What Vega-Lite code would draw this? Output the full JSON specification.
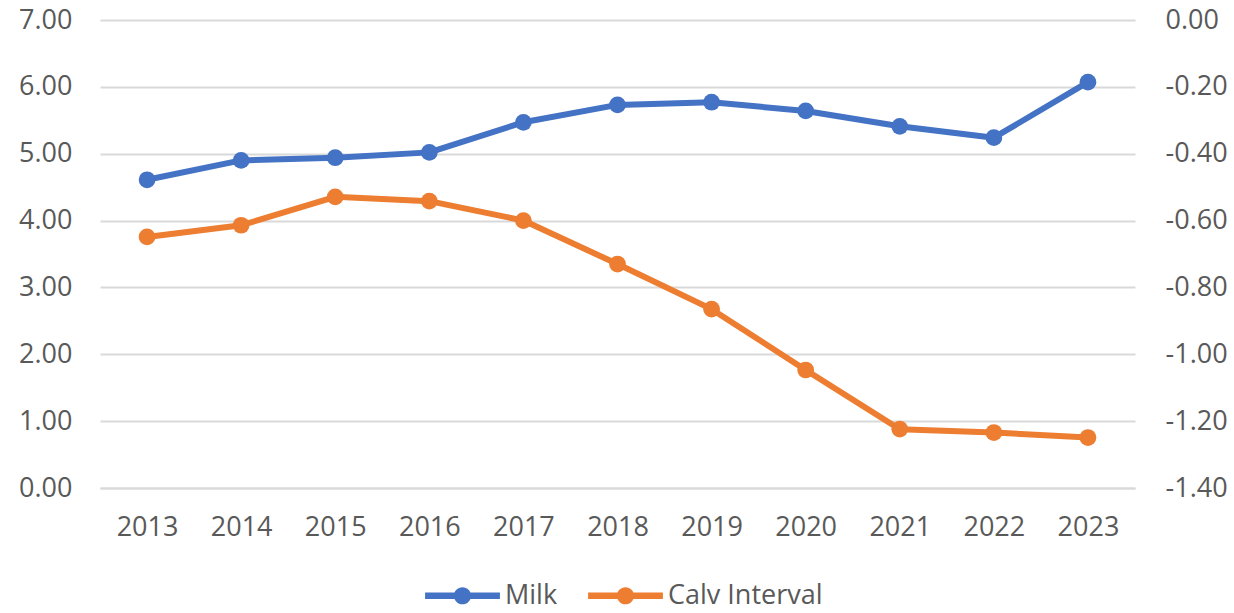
{
  "$schema": "https://vega.github.io/schema/vega-lite/v6.json",
  "width": 1035,
  "height": 468,
  "autosize": {"type": "none"},
  "padding": {"left": 100, "top": 20, "right": 99, "bottom": 125},
  "background": "white",
  "config": {
    "view": {"stroke": null},
    "font": "Open Sans",
    "locale": {"number": {"decimal": ".", "thousands": ",", "grouping": [3], "currency": ["$", ""], "minus": "-"}},
    "axis": {"labelFont": "Open Sans", "labelFontSize": 27, "labelColor": "#595959", "ticks": false, "title": null}
  },
  "data": {
    "values": [
      {"year": "2013", "series": "Milk", "value": 4.61},
      {"year": "2014", "series": "Milk", "value": 4.90},
      {"year": "2015", "series": "Milk", "value": 4.94},
      {"year": "2016", "series": "Milk", "value": 5.02},
      {"year": "2017", "series": "Milk", "value": 5.47},
      {"year": "2018", "series": "Milk", "value": 5.73},
      {"year": "2019", "series": "Milk", "value": 5.77},
      {"year": "2020", "series": "Milk", "value": 5.64},
      {"year": "2021", "series": "Milk", "value": 5.41},
      {"year": "2022", "series": "Milk", "value": 5.24},
      {"year": "2023", "series": "Milk", "value": 6.07},
      {"year": "2013", "series": "Calv Interval", "value": -0.649},
      {"year": "2014", "series": "Calv Interval", "value": -0.614},
      {"year": "2015", "series": "Calv Interval", "value": -0.529},
      {"year": "2016", "series": "Calv Interval", "value": -0.542},
      {"year": "2017", "series": "Calv Interval", "value": -0.600},
      {"year": "2018", "series": "Calv Interval", "value": -0.730},
      {"year": "2019", "series": "Calv Interval", "value": -0.865},
      {"year": "2020", "series": "Calv Interval", "value": -1.047},
      {"year": "2021", "series": "Calv Interval", "value": -1.224},
      {"year": "2022", "series": "Calv Interval", "value": -1.234},
      {"year": "2023", "series": "Calv Interval", "value": -1.249}
    ]
  },
  "encoding": {
    "x": {
      "field": "year",
      "type": "ordinal",
      "scale": {"type": "point", "padding": 0.5},
      "axis": {"labelAngle": 0, "labelPadding": 26, "domain": true, "domainColor": "#d9d9d9", "domainWidth": 2, "grid": false}
    },
    "color": {
      "field": "series",
      "type": "nominal",
      "scale": {"domain": ["Milk", "Calv Interval"], "range": ["#4472C4", "#ED7D31"]},
      "legend": {
        "orient": "none",
        "direction": "horizontal",
        "legendX": 325,
        "legendY": 538,
        "title": null,
        "symbolType": "M-1,-0.085H1V0.085H-1Z M0.23,0A0.23,0.23,0,1,1,-0.23,0A0.23,0.23,0,1,1,0.23,0Z",
        "symbolSize": 5600,
        "symbolStrokeWidth": 0,
        "labelFont": "Open Sans",
        "labelFontSize": 27,
        "labelColor": "#595959",
        "labelOffset": 5,
        "columnPadding": 30,
        "encode": {"symbols": {"update": {"fill": {"scale": "color", "field": "value"}, "stroke": {"value": "transparent"}, "opacity": {"value": 1}}}}
      }
    }
  },
  "layer": [
    {
      "transform": [{"filter": "datum.series === 'Milk'"}],
      "mark": {"type": "line", "strokeWidth": 6, "strokeJoin": "round", "point": {"size": 280, "filled": true, "opacity": 1}},
      "encoding": {
        "y": {
          "field": "value",
          "type": "quantitative",
          "scale": {"domain": [0, 7], "nice": false, "zero": false},
          "axis": {"orient": "left", "values": [0, 1, 2, 3, 4, 5, 6, 7], "format": ".2f", "domain": false, "grid": true, "gridColor": "#d9d9d9", "gridWidth": 2, "labelPadding": 28}
        }
      }
    },
    {
      "transform": [{"filter": "datum.series === 'Calv Interval'"}],
      "mark": {"type": "line", "strokeWidth": 6, "strokeJoin": "round", "point": {"size": 280, "filled": true, "opacity": 1}},
      "encoding": {
        "y": {
          "field": "value",
          "type": "quantitative",
          "scale": {"domain": [-1.4, 0], "nice": false, "zero": false},
          "axis": {"orient": "right", "values": [-1.4, -1.2, -1.0, -0.8, -0.6, -0.4, -0.2, 0], "format": ".2f", "domain": false, "grid": false, "labelPadding": 30}
        }
      }
    }
  ],
  "resolve": {"scale": {"y": "independent"}}
}
